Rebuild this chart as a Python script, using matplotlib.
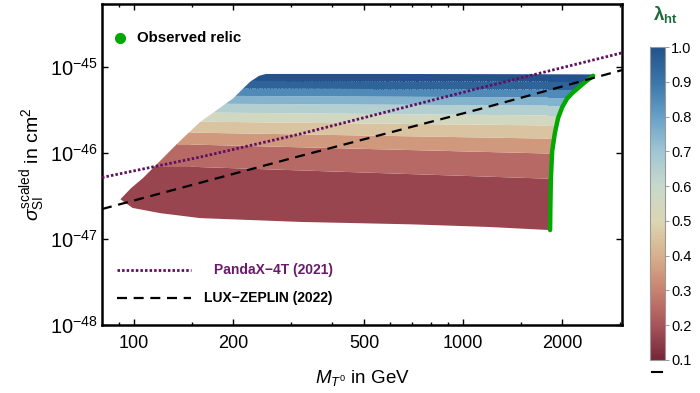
import numpy as np
import matplotlib
matplotlib.use('Agg')
import matplotlib.pyplot as plt
from matplotlib.colors import LinearSegmentedColormap, Normalize
from matplotlib.cm import ScalarMappable
from matplotlib.patches import Polygon
from matplotlib.lines import Line2D
from matplotlib.ticker import NullFormatter, NullLocator

plt.rcParams['font.family'] = 'Liberation Sans'
plt.rcParams['mathtext.fontset'] = 'custom'
plt.rcParams['mathtext.rm'] = 'Liberation Sans'
plt.rcParams['mathtext.it'] = 'Liberation Sans:italic'
plt.rcParams['mathtext.bf'] = 'Liberation Sans:bold'

# colour scale for lambda_ht
lam_ticks = [0.1, 0.2, 0.3, 0.4, 0.5, 0.6, 0.7, 0.8, 0.9, 1.0]
lam_colors = ['#762638', '#a8545a', '#c88270', '#d7b08c', '#dcd6b4',
              '#c8d8cb', '#a0c6d4', '#67a0c8', '#3a76ab', '#24528c']

# outline of the scanned region (GeV, cm^2)
region_mass = [91, 98, 106.5, 138, 159, 200, 225, 240, 252, 600, 1500, 2500,
               2484, 2236, 2070, 1944, 1865, 1848, 1838,
               1200, 700, 320, 159, 120, 99, 91]
region_sigma = [2.9e-47, 3.9e-47, 5.1e-47, 1.38e-46, 2.3e-46, 4.3e-46, 6.7e-46, 7.9e-46, 8.3e-46,
                8.3e-46, 8.25e-46, 8.2e-46,
                7.9e-46, 5.7e-46, 4.3e-46, 2.55e-46, 1.05e-46, 4.0e-47, 1.27e-47,
                1.38e-47, 1.48e-47, 1.58e-47, 1.75e-47, 2.0e-47, 2.3e-47, 2.9e-47]

# lambda bands: lower edge of each band at M=150 GeV and at M=1800 GeV
band_lambda = [0.17, 0.25, 0.35, 0.45, 0.55, 0.65, 0.75, 0.85, 0.95, 1.0]
band_edge_mass = [150, 1800]
band_edge_left = [1e-48, 7.0e-47, 1.27e-46, 1.75e-46, 2.35e-46, 3.0e-46, 3.8e-46, 4.7e-46, 5.7e-46, 7.0e-46]
band_edge_right = [1e-48, 5.1e-47, 1.0e-46, 1.49e-46, 2.12e-46, 2.77e-46, 3.61e-46, 4.48e-46, 5.55e-46, 6.87e-46]

# observed relic curve
relic_mass = [1838, 1842, 1848, 1865, 1900, 1944, 2000, 2070, 2150, 2236, 2350, 2484]
relic_sigma = [1.27e-47, 2.5e-47, 5.0e-47, 1.05e-46, 1.7e-46, 2.55e-46, 3.4e-46, 4.3e-46, 5.0e-46, 5.7e-46, 6.7e-46, 7.9e-46]

# direct detection limits
pandax_mass = [80, 159, 319, 1126, 3040]
pandax_sigma = [5.19e-47, 8.97e-47, 1.66e-46, 5.7e-46, 1.46e-45]
lz_mass = [80, 319, 1126, 3040]
lz_sigma = [2.23e-47, 9.2e-47, 3.25e-46, 9.2e-46]

cmap = LinearSegmentedColormap.from_list('rbt', list(zip(np.linspace(0, 1, 10), lam_colors)))
norm = Normalize(0.1, 1.0)

fig = plt.figure(figsize=(7, 3.93), dpi=100)
ax = fig.add_axes([0.1457, 0.173, 0.7429, 0.8168])
ax.set_xscale('log')
ax.set_yscale('log')
ax.set_xlim(80, 3040)
ax.set_ylim(1e-48, 5.4e-45)

clip = Polygon(np.column_stack([region_mass, region_sigma]), closed=True,
               transform=ax.transData, facecolor='none', edgecolor='none')
mgrid = np.geomspace(80, 3040, 300)
edges = [10 ** np.interp(np.log10(mgrid), np.log10(band_edge_mass), np.log10([l, r]))
         for l, r in zip(band_edge_left, band_edge_right)]
edges.append(np.full_like(mgrid, 1e-44))
for i, lam in enumerate(band_lambda):
    fb = ax.fill_between(mgrid, edges[i], edges[i + 1], color=cmap(norm(lam)), lw=0, zorder=1)
    fb.set_clip_path(clip)

ax.plot(relic_mass, relic_sigma, color='#00a800', lw=3.2, solid_capstyle='round', zorder=2)
ax.plot(lz_mass, lz_sigma, color='black', lw=1.6, ls=(0, (4.5, 3)), zorder=3)
ax.plot(pandax_mass, pandax_sigma, color='#5f0f5f', lw=2.0, ls=(0, (0.9, 0.75)), zorder=4)

# legends
ax.plot([0.035], [0.894], 'o', color='#00a800', ms=7, transform=ax.transAxes)
ax.text(0.067, 0.894, 'Observed relic', transform=ax.transAxes, fontsize=10.8,
        fontweight='bold', va='center', ha='left')
ax.plot([0.029, 0.171], [0.171, 0.171], color='#5f0f5f', lw=2.0, ls=(0, (0.9, 0.75)),
        transform=ax.transAxes)
ax.text(0.444, 0.171, 'PandaX\u22124T (2021)', transform=ax.transAxes, fontsize=10,
        fontweight='bold', va='center', ha='right', color='#6a1a6a')
ax.plot([0.029, 0.171], [0.084, 0.084], color='black', lw=1.6, ls=(0, (4.5, 3)),
        transform=ax.transAxes)
ax.text(0.444, 0.084, 'LUX\u2212ZEPLIN (2022)', transform=ax.transAxes, fontsize=10,
        fontweight='bold', va='center', ha='right', color='black')

ax.set_xticks([100, 200, 500, 1000, 2000])
ax.set_xticklabels(['100', '200', '500', '1000', '2000'])
ax.set_xticks([90, 150, 300, 400, 600, 700, 800, 900, 1500, 3000], minor=True)
ax.xaxis.set_minor_formatter(NullFormatter())
ax.set_yticks([1e-48, 1e-47, 1e-46, 1e-45])
ax.set_yticklabels([r'$10^{-48}$', r'$10^{-47}$', r'$10^{-46}$', r'$10^{-45}$'])
ax.yaxis.set_minor_locator(NullLocator())
ax.tick_params(which='both', direction='in', top=True, right=True, width=1)
ax.tick_params(which='major', length=4)
ax.tick_params(which='minor', length=2.5)
ax.tick_params(axis='x', labelsize=13, pad=7)
ax.tick_params(axis='y', labelsize=14.5, pad=3)
for s in ax.spines.values():
    s.set_linewidth(1.8)

ax.set_xlabel(r'$M_{T^0}$ in GeV', fontsize=13.5, labelpad=12)
ax.set_ylabel(r'$\sigma_{\rm SI}^{\rm scaled}$ in cm$^2$', fontsize=14, labelpad=2)

cax = fig.add_axes([0.9286, 0.084, 0.0214, 0.796])
cb = fig.colorbar(ScalarMappable(norm=norm, cmap=cmap), cax=cax, ticks=lam_ticks)
cb.set_ticklabels(['%.1f' % t for t in lam_ticks])
cb.outline.set_edgecolor('#999999')
cb.outline.set_linewidth(0.8)
cax.tick_params(labelsize=10.5, length=3, width=0.6, color='#888888', pad=1.5)
fig.text(0.95, 0.962, r'$\mathbf{\lambda}_{\mathbf{ht}}$', color='#1d6b3c', fontsize=13.5,
         ha='center', va='center')
fig.add_artist(Line2D([0.931, 0.946], [0.053, 0.053], color='black', lw=1.5))

fig.savefig('out.png', dpi=100)
